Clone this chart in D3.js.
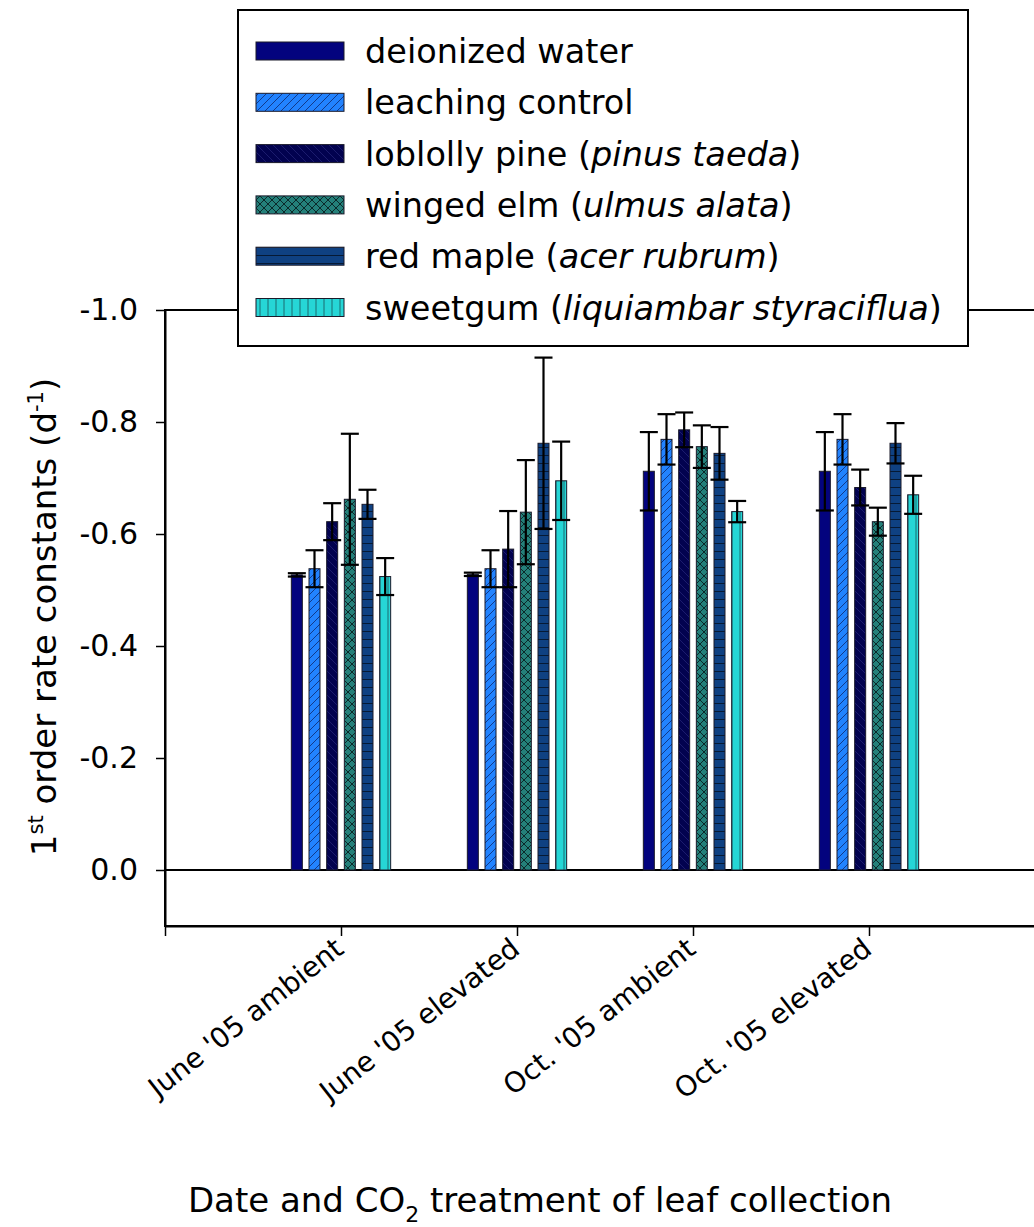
<!DOCTYPE html>
<html>
<head>
<meta charset="utf-8">
<script src="https://cdn.jsdelivr.net/npm/d3@7"></script>
<style>
  html, body { margin: 0; padding: 0; background: #fff; }
  svg { display: block; font-family: "DejaVu Sans", Verdana, sans-serif; }
</style>
</head>
<body>
<svg id="chart" width="1034" height="1227"></svg>
<script>
// Collection dates / CO2 treatments (x groups)
const categories = ["June '05 ambient", "June '05 elevated", "Oct. '05 ambient", "Oct. '05 elevated"];

// Leaf-litter treatments (bar series)
const series = ["deionized water", "leaching control", "loblolly pine", "winged elm", "red maple", "sweetgum"];
const seriesLatin = [null, null, "pinus taeda", "ulmus alata", "acer rubrum", "liquiambar styraciflua"];

// First-order rate constants (d^-1), one array per series, ordered by category
const deionizedWater  = [-0.527, -0.528, -0.712, -0.712];
const leachingControl = [-0.538, -0.538, -0.769, -0.769];
const loblollyPine    = [-0.622, -0.573, -0.786, -0.683];
const wingedElm       = [-0.662, -0.639, -0.756, -0.622];
const redMaple        = [-0.653, -0.762, -0.744, -0.762];
const sweetgum        = [-0.524, -0.695, -0.640, -0.670];

// Error bar half-widths (same order)
const errDeionized = [0.003, 0.003, 0.070, 0.070];
const errLeaching  = [0.033, 0.033, 0.045, 0.045];
const errPine      = [0.033, 0.068, 0.031, 0.032];
const errElm       = [0.117, 0.093, 0.038, 0.025];
const errMaple     = [0.026, 0.153, 0.047, 0.036];
const errSweetgum  = [0.033, 0.070, 0.019, 0.034];

const yTicks = [-1.0, -0.8, -0.6, -0.4, -0.2, 0.0];

const values = [deionizedWater, leachingControl, loblollyPine, wingedElm, redMaple, sweetgum];
const errors = [errDeionized, errLeaching, errPine, errElm, errMaple, errSweetgum];

const svg = d3.select("#chart");
const defs = svg.append("defs");

// Fill patterns for each series
function hatch(id, base, size, drawFn) {
  const p = defs.append("pattern").attr("id", id)
    .attr("patternUnits", "userSpaceOnUse")
    .attr("width", size).attr("height", size);
  p.append("rect").attr("width", size).attr("height", size).attr("fill", base);
  drawFn(p, size);
}
const fills = [];
fills.push("#03037e");
hatch("pLeach", "#2283ff", 8, (p, s) => {
  p.append("path").attr("d", `M0,${s} L${s},0 M${-s/2},${s/2} L${s/2},${-s/2} M${s/2},${s*1.5} L${s*1.5},${s/2}`)
    .attr("stroke", "#123a8a").attr("stroke-width", 1);
});
fills.push("url(#pLeach)");
hatch("pPine", "#02024f", 8, (p, s) => {
  p.append("path").attr("d", `M0,0 L${s},${s} M${-s/2},${s/2} L${s/2},${s*1.5} M${s/2},${-s/2} L${s*1.5},${s/2}`)
    .attr("stroke", "#1c1c6e").attr("stroke-width", 1);
});
fills.push("url(#pPine)");
hatch("pElm", "#24807a", 8, (p, s) => {
  p.append("path").attr("d", `M0,0 L${s},${s} M0,${s} L${s},0`)
    .attr("stroke", "#0b2a2a").attr("stroke-width", 1);
});
fills.push("url(#pElm)");
hatch("pMaple", "#0f4182", 8, (p, s) => {
  p.append("path").attr("d", `M0,${s - 0.5} L${s},${s - 0.5}`)
    .attr("stroke", "#061a35").attr("stroke-width", 1);
});
fills.push("url(#pMaple)");
hatch("pSweet", "#26d6d6", 8, (p, s) => {
  p.append("path").attr("d", `M${s/2},0 L${s/2},${s}`)
    .attr("stroke", "#1a6b70").attr("stroke-width", 1);
});
fills.push("url(#pSweet)");

// Scales
const x = d3.scaleLinear().domain([0, 5]).range([165, 1045]);
const y = d3.scaleLinear().domain([0.1, -1.0]).range([926, 310]);
const inner = d3.scaleBand().domain(series).range([-53, 53]).padding(0);
const barW = 11;

// Plot frame (right edge runs past the page)
svg.append("rect")
  .attr("x", x(0)).attr("y", y(-1.0))
  .attr("width", x(5) - x(0)).attr("height", y(0.1) - y(-1.0))
  .attr("fill", "none").attr("stroke", "#000").attr("stroke-width", 2);

// Zero line
svg.append("line")
  .attr("x1", x(0)).attr("x2", x(5))
  .attr("y1", y(0)).attr("y2", y(0))
  .attr("stroke", "#000").attr("stroke-width", 1.8);

// Y axis
const yAxis = svg.append("g")
  .attr("transform", `translate(${x(0)},0)`)
  .call(d3.axisLeft(y).tickValues(yTicks).tickSize(9).tickSizeOuter(0).tickPadding(18)
    .tickFormat(d => d.toFixed(1)));
yAxis.select(".domain").attr("stroke-width", 2);
yAxis.selectAll(".tick line").attr("stroke-width", 1.5);
yAxis.selectAll("text").attr("font-size", 30).attr("fill", "#000")
  .attr("font-family", "DejaVu Sans, sans-serif");

// X axis
const xAxis = svg.append("g")
  .attr("transform", `translate(0,${y(0.1)})`)
  .call(d3.axisBottom(x).tickValues([0, 1, 2, 3, 4, 5]).tickSize(10).tickSizeOuter(0)
    .tickFormat(d => (d >= 1 && d <= 4) ? categories[d - 1] : ""));
xAxis.select(".domain").attr("stroke-width", 2);
xAxis.selectAll(".tick line").attr("stroke-width", 1.5);
xAxis.selectAll("text")
  .attr("font-size", 28).attr("fill", "#000")
  .attr("font-family", "DejaVu Sans, sans-serif")
  .attr("text-anchor", "end")
  .attr("x", 0).attr("y", 0).attr("dy", "0")
  .attr("transform", "translate(4,26) rotate(-38)");

// Bars
const bars = svg.append("g");
categories.forEach((c, ci) => {
  series.forEach((s, si) => {
    const v = values[si][ci];
    const cx = x(ci + 1) + inner(s) + inner.bandwidth() / 2;
    bars.append("rect")
      .attr("x", cx - barW / 2)
      .attr("y", Math.min(y(v), y(0)))
      .attr("width", barW)
      .attr("height", Math.abs(y(0) - y(v)))
      .attr("fill", fills[si])
      .attr("stroke", "#1a1a2a").attr("stroke-width", 1);
  });
});

// Error bars
const errG = svg.append("g").attr("stroke", "#000").attr("stroke-width", 2.2);
categories.forEach((c, ci) => {
  series.forEach((s, si) => {
    const v = values[si][ci], e = errors[si][ci];
    const cx = x(ci + 1) + inner(s) + inner.bandwidth() / 2;
    const yHi = y(v - e), yLo = y(v + e);
    errG.append("line").attr("x1", cx).attr("x2", cx).attr("y1", yHi).attr("y2", yLo);
    errG.append("line").attr("x1", cx - 9).attr("x2", cx + 9).attr("y1", yHi).attr("y2", yHi);
    errG.append("line").attr("x1", cx - 9).attr("x2", cx + 9).attr("y1", yLo).attr("y2", yLo);
  });
});

// Y axis title
const yTitle = svg.append("text")
  .attr("transform", "translate(56,617) rotate(-90)")
  .attr("text-anchor", "middle")
  .attr("font-size", 34).attr("fill", "#000");
yTitle.append("tspan").text("1");
yTitle.append("tspan").attr("font-size", 21).attr("dy", -13).text("st");
yTitle.append("tspan").attr("dy", 13).text(" order rate constants (d");
yTitle.append("tspan").attr("font-size", 21).attr("dy", -13).text("-1");
yTitle.append("tspan").attr("dy", 13).text(")");

// X axis title
const xTitle = svg.append("text")
  .attr("x", 540).attr("y", 1212)
  .attr("text-anchor", "middle")
  .attr("font-size", 34).attr("fill", "#000");
xTitle.append("tspan").text("Date and CO");
xTitle.append("tspan").attr("font-size", 22).attr("dy", 10).text("2");
xTitle.append("tspan").attr("dy", -10).text(" treatment of leaf collection");

// Legend
const legend = svg.append("g");
legend.append("rect")
  .attr("x", 238).attr("y", 10).attr("width", 730).attr("height", 336)
  .attr("fill", "#fff").attr("stroke", "#000").attr("stroke-width", 2);
series.forEach((s, si) => {
  const cy = 51 + si * 51.3;
  legend.append("rect")
    .attr("x", 256).attr("y", cy - 9).attr("width", 88).attr("height", 18)
    .attr("fill", fills[si]).attr("stroke", "#1a1a2a").attr("stroke-width", 1);
  const t = legend.append("text")
    .attr("x", 365).attr("y", cy + 12)
    .attr("font-size", 33.5).attr("fill", "#000");
  if (seriesLatin[si]) {
    t.append("tspan").text(s + " (");
    t.append("tspan").attr("font-style", "italic").text(seriesLatin[si]);
    t.append("tspan").text(")");
  } else {
    t.text(s);
  }
});
</script>
</body>
</html>
